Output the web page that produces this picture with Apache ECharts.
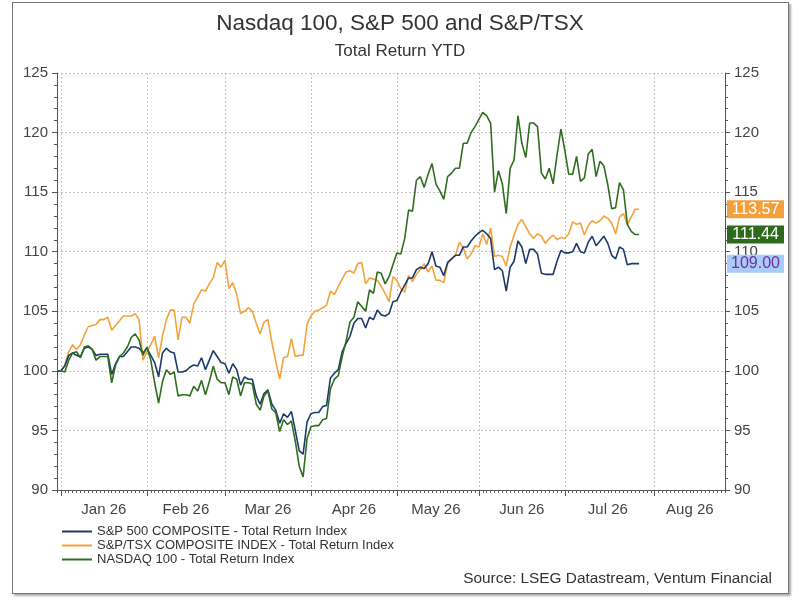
<!DOCTYPE html>
<html>
<head>
<meta charset="utf-8">
<script src="https://cdn.jsdelivr.net/npm/echarts@6/dist/echarts.min.js"></script>
<style>
html,body{margin:0;padding:0;background:#fff;}
#frame{position:absolute;left:12px;top:2px;width:775px;height:590px;border:1px solid #777;box-shadow:2px 2px 2px #aaa;}
#chart{position:absolute;left:0;top:0;width:800px;height:606px;}
</style>
</head>
<body>
<div id="frame"></div>
<div id="chart"></div>
<script>
// ---- Data (weekday observations from 2025-12-31, base = 100) ----
const startDate = '2025-12-31';
const axisEndDate = '2026-08-27';
const monthLabels = ['Jan 26','Feb 26','Mar 26','Apr 26','May 26','Jun 26','Jul 26','Aug 26'];
const yTicks = [90, 95, 100, 105, 110, 115, 120, 125];

const sp500 = [
100,100,100.4,101.3,101.5,101.3,101.2,101.9,102.0,101.8,
101.3,101.4,101.4,101.4,99.7,100.6,101.2,101.2,101.6,102.0,
102.0,101.9,101.5,101.9,101.3,100.7,99.5,101.5,101.9,101.6,
101.5,99.9,99.9,100.0,100.3,100.5,100.4,101.1,100.1,100.9,
101.7,101.2,100.7,100.6,99.8,100.6,100.1,98.8,99.5,99.3,
99.3,97.9,97.2,98.1,98.4,97.2,96.7,95.6,96.4,96.1,
96.6,95.0,93.3,93.0,95.7,96.4,96.5,96.5,97.0,97.1,
99.4,99.8,100.1,101.6,102.3,102.9,104.0,104.4,104.4,103.6,
104.5,104.3,105.1,104.7,104.6,104.8,105.8,105.9,106.6,107.2,
107.8,107.8,108.5,108.7,108.6,109.0,110.0,108.8,108.7,108.0,
109.1,109.4,109.7,109.7,110.4,110.4,110.9,111.3,111.6,111.8,
111.5,111.1,108.5,108.7,108.4,106.7,108.7,109.2,110.9,110.4,
109.0,110.2,110.2,109.8,108.2,108.1,108.1,108.1,109.2,110.1,
109.9,109.9,110.0,110.7,110.0,109.9,110.8,111.3,110.5,110.9,
111.3,110.7,109.7,109.4,110.4,110.2,108.9,109.0,109.0,109.00
];

const tsx = [
100,100,100.5,101.6,102.2,101.8,102.2,103.0,103.7,103.8,
103.9,104.3,104.3,104.5,103.4,103.8,104.2,104.6,104.6,104.6,
104.8,104.3,100.9,101.6,102.2,102.9,101.1,102.9,104.3,105.1,
105.1,102.6,104.5,104.5,104.0,105.6,106.2,106.8,106.7,107.3,
107.8,109.1,108.7,109.3,106.9,107.4,106.4,104.8,105.0,105.3,
105.0,104.0,103.1,104.1,104.3,102.4,100.8,99.3,101.1,101.2,
102.7,101.2,101.3,101.3,103.9,104.6,105.0,105.1,105.3,105.5,
106.7,106.4,107.1,107.7,108.3,108.4,108.2,109.0,109.1,107.3,
107.8,107.7,107.6,107.1,106.5,105.8,107.9,107.6,106.9,106.6,
108.0,107.5,108.1,108.5,109.0,108.3,108.8,107.6,107.6,107.4,
109.0,109.4,109.7,110.8,110.3,109.4,109.8,110.5,110.4,111.5,
110.6,112.0,109.6,109.7,109.6,108.8,110.4,111.4,112.3,112.7,
112.1,111.5,111.1,111.5,111.3,110.7,111.1,111.4,111.0,111.2,
111.1,111.5,112.5,112.3,112.4,111.4,112.2,112.6,112.4,112.6,
113.0,112.8,112.4,111.5,112.9,113.2,112.3,112.9,113.57,113.57
];

const nasdaq100 = [
100,100,99.9,100.9,101.5,101.6,101.1,102.0,102.1,101.8,
100.9,101.2,101.2,101.2,99.0,100.5,101.2,101.5,102.0,102.8,
103.1,102.6,101.3,102.0,100.9,99.0,97.3,99.1,100.1,99.7,
99.9,97.9,98.0,98.0,97.9,98.7,98.3,99.2,98.0,99.1,
100.4,99.3,99.0,99.0,98.0,99.5,99.3,97.9,99.0,99.0,
98.9,97.2,96.7,97.9,98.3,96.8,96.5,94.9,95.9,95.5,
95.8,94.1,92.0,91.1,94.3,95.3,95.4,95.4,95.9,96.0,
98.5,99.3,99.6,101.2,102.5,104.1,104.5,105.8,105.4,105.0,
106.8,106.5,108.3,108.2,107.3,107.9,108.9,109.9,109.8,111.1,
113.5,113.4,116.0,116.3,115.4,116.5,117.4,115.7,115.1,114.4,
116.3,116.6,117.0,117.0,119.1,119.1,120.0,120.5,121.1,121.7,
121.4,120.8,115.0,116.8,115.7,113.2,117.0,117.7,121.4,119.1,
117.9,120.8,120.8,120.5,116.6,116.1,117.0,115.7,118.1,120.3,
118.5,116.5,116.5,118.0,115.9,116.2,118.2,118.6,116.3,117.6,
117.2,115.6,113.6,113.7,115.8,115.2,112.3,111.7,111.44,111.44
];

const seriesNames = ['S&P 500 COMPOSITE - Total Return Index','S&P/TSX COMPOSITE INDEX - Total Return Index','NASDAQ 100 - Total Return Index'];
const seriesColors = ['#1B3A6B','#F4A23A','#2F6E1F'];
const boxColors = [{bg:'#A9CBF7',fg:'#7030A0'},{bg:'#F2A03D',fg:'#ffffff'},{bg:'#2D6A1A',fg:'#ffffff'}];

// ---- Weekday categories for the axis ----
function weekdays(a, b){
  const out = [];
  const d = new Date(a + 'T00:00:00Z');
  const e = new Date(b + 'T00:00:00Z');
  while (d <= e) {
    const wd = d.getUTCDay();
    if (wd !== 0 && wd !== 6) out.push(d.toISOString().slice(0,10));
    d.setUTCDate(d.getUTCDate() + 1);
  }
  return out;
}
const cats = weekdays(startDate, axisEndDate);
const monthOf = s => +s.slice(5,7);
const monthStarts = new Set();
const starts = [];
for (let i = 1; i < cats.length; i++) {
  if (monthOf(cats[i]) !== monthOf(cats[i-1])) { monthStarts.add(i); starts.push(i); }
}
const labelIdx = new Set();
for (let k = 0; k < starts.length; k++) {
  const a = starts[k], b = (k + 1 < starts.length) ? starts[k+1] : cats.length - 1;
  labelIdx.add(Math.floor((a + b) / 2));
}

const FONT = 'Liberation Sans, Arial';
const gridLine = {show:true, lineStyle:{color:'#c4c4c4', type:[2,2], width:1}};
const axisCol = '#555';
const yAxisBase = {
  type:'value', min:yTicks[0], max:yTicks[yTicks.length-1], interval:5,
  axisLine:{show:true, lineStyle:{color:axisCol}},
  axisTick:{show:true, length:5, lineStyle:{color:axisCol}},
  minorTick:{show:true, splitNumber:5, length:3, lineStyle:{color:axisCol}},
  axisLabel:{fontSize:15, color:'#444', margin:9, fontFamily:FONT},
};

const chart = echarts.init(document.getElementById('chart'), null, {renderer:'canvas'});
const allSeries = [sp500, tsx, nasdaq100];
chart.setOption({
  animation:false,
  backgroundColor:'transparent',
  textStyle:{fontFamily:FONT},
  title:[
    {text:'Nasdaq 100, S&P 500 and S&P/TSX', left:'center', top:7,
     textStyle:{fontSize:22.5, fontWeight:'normal', color:'#333', fontFamily:FONT}},
    {text:'Total Return YTD', left:'center', top:38,
     textStyle:{fontSize:17, fontWeight:'normal', color:'#333', fontFamily:FONT}},
    {text:'Source: LSEG Datastream, Ventum Financial', right:23, top:566,
     textStyle:{fontSize:15.4, fontWeight:'normal', color:'#333', fontFamily:FONT}}
  ],
  legend:{
    orient:'vertical', left:57, top:520, icon:'rect', itemWidth:30, itemHeight:2, itemGap:1,
    textStyle:{fontSize:13, color:'#333', fontFamily:FONT},
    data:seriesNames
  },
  grid:{left:57, right:75, top:73, bottom:116, containLabel:false},
  xAxis:[
    {type:'category', data:cats, boundaryGap:false,
     axisLine:{lineStyle:{color:axisCol}},
     axisTick:{show:true, interval:0, length:3, lineStyle:{color:axisCol}},
     axisLabel:{interval:(i)=>labelIdx.has(i), formatter:(v)=>monthLabels[monthOf(v)-1] || '',
                fontSize:15, color:'#444', margin:12, fontFamily:FONT},
     splitLine:{show:true, interval:(i)=>monthStarts.has(i), lineStyle:gridLine.lineStyle}},
    {type:'category', data:cats, boundaryGap:false, position:'bottom',
     axisLine:{show:false},
     axisTick:{show:true, interval:(i)=>monthStarts.has(i), length:6, lineStyle:{color:axisCol}},
     axisLabel:{show:false}, splitLine:{show:false}}
  ],
  yAxis:[
    Object.assign({}, yAxisBase, {position:'left', splitLine:gridLine}),
    Object.assign({}, yAxisBase, {position:'right', splitLine:{show:false}})
  ],
  series: allSeries.map((d, i) => ({
    name:seriesNames[i], type:'line', data:d, xAxisIndex:0, yAxisIndex:0,
    showSymbol:false, symbol:'none', color:seriesColors[i],
    lineStyle:{width:1.6, color:seriesColors[i]}, z:[3,2,4][i]
  }))
});

// ---- End-value boxes on the right axis ----
const rightX = 800 - 75;
const graphics = [];
allSeries.forEach((d, i) => {
  const v = d[d.length-1];
  const y = chart.convertToPixel({yAxisIndex:0}, v);
  graphics.push({type:'rect', z:100, shape:{x:rightX+2, y:y-9, width:57, height:18},
                 style:{fill:boxColors[i].bg}});
  graphics.push({type:'text', z:101, x:rightX+2+28.5, y:y,
                 style:{text:v.toFixed(2), fill:boxColors[i].fg, fontSize:16, align:'center', verticalAlign:'middle',
                        fontFamily:FONT}});
});
chart.setOption({graphic:graphics});
</script>
</body>
</html>
